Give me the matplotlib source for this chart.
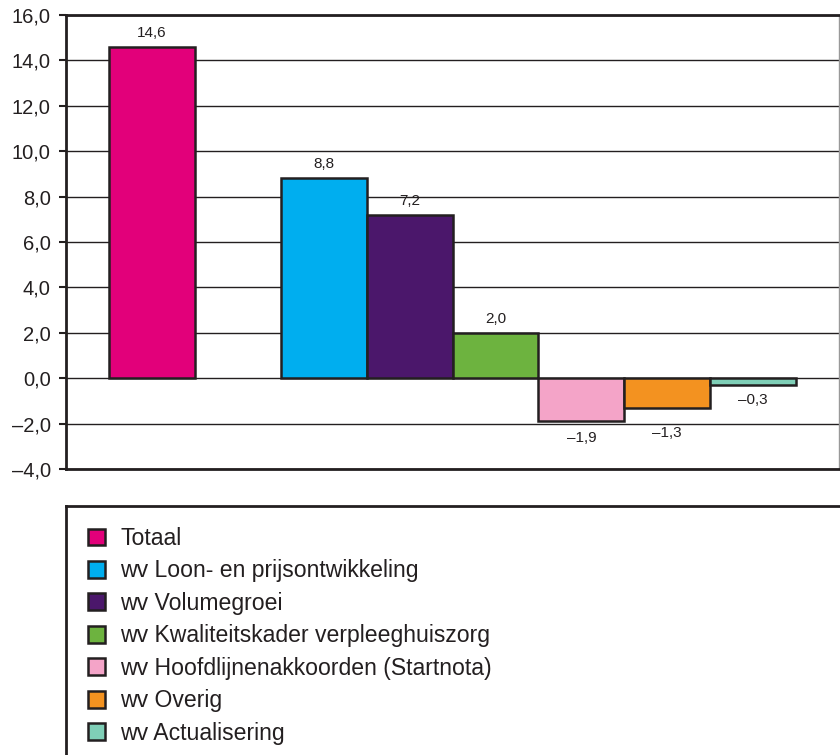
import matplotlib.pyplot as plt
from matplotlib.patches import Patch

plt.rcParams['font.family'] = ['Liberation Sans', 'DejaVu Sans']

# data
labels = ['Totaal', 'wv Loon- en prijsontwikkeling', 'wv Volumegroei',
          'wv Kwaliteitskader verpleeghuiszorg', 'wv Hoofdlijnenakkoorden (Startnota)',
          'wv Overig', 'wv Actualisering']
values = [14.6, 8.8, 7.2, 2.0, -1.9, -1.3, -0.3]
positions = [0, 2, 3, 4, 5, 6, 7]
colors = ['#E2007A', '#00AEEF', '#4B176B', '#6DB33F', '#F4A4C8', '#F39220', '#7FCFB7']
yticks = [-4, -2, 0, 2, 4, 6, 8, 10, 12, 14, 16]
# label offsets in points (value labels sit above / below bars)
label_offsets = [5, 5, 5, 5, -7, -13, -6]


def fmt(v):
    s = f'{v:.1f}'.replace('.', ',')
    return s.replace('-', '\u2013')


fig = plt.figure(figsize=(8.4, 7.55), dpi=100)
ax = fig.add_axes([66 / 840, 1 - 469 / 755, 773 / 840, 454 / 755])

edge = '#231F20'
bars = ax.bar(positions, values, width=1.0, color=colors, edgecolor=edge,
              linewidth=1.8, zorder=3)

for x, v, off in zip(positions, values, label_offsets):
    ax.annotate(fmt(v), (x, v), xytext=(0, off), textcoords='offset points',
                ha='center', va='bottom' if v >= 0 else 'top',
                fontsize=11, color=edge)

ax.set_xlim(-1, 8)
ax.set_ylim(-4, 16)
ax.set_yticks(yticks)
ax.set_yticklabels([fmt(t) for t in yticks], fontsize=14.5, color=edge)
ax.set_xticks([])
ax.yaxis.grid(True, color=edge, linewidth=1.0, zorder=0)
ax.set_axisbelow(True)
ax.tick_params(axis='y', length=5, width=1.5, pad=6, color=edge)
for side in ['left', 'bottom', 'top']:
    ax.spines[side].set_linewidth(2.0)
    ax.spines[side].set_color(edge)
ax.spines['right'].set_color('#999999')
ax.spines['right'].set_linewidth(1.0)

# legend box
lax = fig.add_axes([66 / 840, 0, 774 / 840 + 0.01, 1 - 506 / 755])
lax.set_xticks([])
lax.set_yticks([])
lax.spines['right'].set_visible(False)
lax.spines['bottom'].set_visible(False)
for side in ['left', 'top']:
    lax.spines[side].set_linewidth(2.0)
    lax.spines[side].set_color(edge)

handles = [Patch(facecolor=c, edgecolor=edge, linewidth=1.8) for c in colors]
lax.legend(handles, labels, loc='upper left',
           bbox_to_anchor=(88 / 840, 1 - 527 / 755), bbox_transform=fig.transFigure,
           frameon=False, fontsize=16.6, handlelength=0.75, handleheight=0.75,
           handletextpad=0.65, labelspacing=0.41, borderpad=0, borderaxespad=0,
           labelcolor=edge)

fig.savefig('out.png', dpi=100)
